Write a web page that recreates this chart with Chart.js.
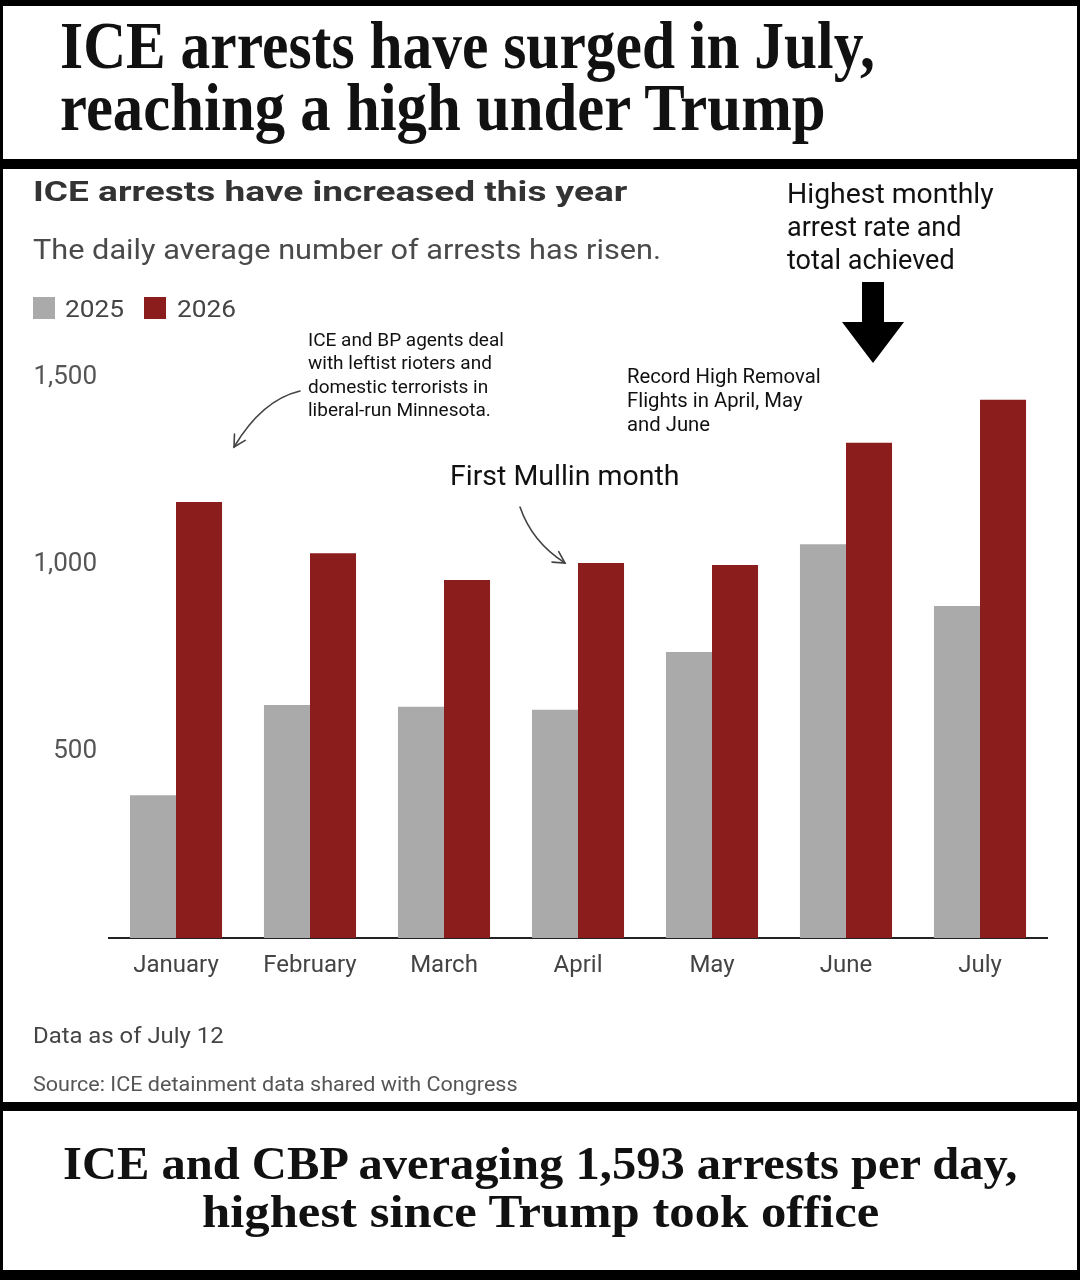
<!DOCTYPE html>
<html>
<head>
<meta charset="utf-8">
<script src="https://cdn.jsdelivr.net/npm/chart.js@4.4.1/dist/chart.umd.min.js"></script>
<style>
  html, body { margin: 0; padding: 0; }
  body { width: 1080px; height: 1280px; background: #000; position: relative; overflow: hidden; }
  .box { position: absolute; background: #fff; }
  .t { position: absolute; white-space: nowrap; line-height: 1; transform-origin: 0 0; }
  .sq { position: absolute; width: 22px; height: 22px; }
  #wrap { position: absolute; left: 0; top: 0; width: 1080px; height: 1280px; }
</style>
</head>
<body>
<div class="box" style="left:3px;top:6px;width:1074px;height:153px"></div>
<div class="box" style="left:3px;top:169px;width:1074px;height:933px"></div>
<div class="box" style="left:3px;top:1111px;width:1074px;height:159px"></div>
<div id="wrap"><canvas id="arrestsChart"></canvas></div>
<div id="texts"></div>
<script>
// data (daily average arrests)
const months = ['January', 'February', 'March', 'April', 'May', 'June', 'July'];
const seriesNames = ['2025', '2026'];
const arrests2025 = [382, 623, 618, 610, 765, 1053, 888];
const arrests2026 = [1166, 1029, 957, 1003, 997, 1324, 1439];
const yTicks = [500, 1000, 1500];

const GRAY = '#aaaaaa';
const RED = '#8c1d1d';
const SANS = 'Roboto, "Liberation Sans", sans-serif';
const SERIF = '"Liberation Serif", "DejaVu Serif", serif';

// text helper: x = left (or centre), y = baseline
const texts = document.getElementById('texts');
const fits = [];
function put(str, x, base, size, opts) {
    opts = opts || {};
    const d = document.createElement('div');
    d.className = 't';
    d.textContent = str;
    d.style.fontFamily = opts.family || SANS;
    d.style.fontSize = size + 'px';
    d.style.fontWeight = opts.weight || 400;
    d.style.color = opts.color || '#111';
    d.style.top = (base - 0.84 * size) + 'px';
    d.style.left = x + 'px';
    texts.appendChild(d);
    if (opts.width) fits.push({ d, x, w: opts.width, center: opts.center });
    return d;
}

// headline box
put('ICE arrests have surged in July,', 60, 68, 68, { family: SERIF, weight: 700, color: '#111', width: 815 });
put('reaching a high under Trump', 60, 130, 68, { family: SERIF, weight: 700, color: '#111', width: 766 });

// chart header
put('ICE arrests have increased this year', 33, 202, 28, { weight: 700, color: '#333', width: 595 });
put('The daily average number of arrests has risen.', 33, 260, 28, { color: '#4a4a4a', width: 628 });

// legend
[GRAY, RED].forEach((c, i) => {
    const s = document.createElement('div');
    s.className = 'sq';
    s.style.background = c;
    s.style.left = (33 + i * 111) + 'px';
    s.style.top = '297px';
    texts.appendChild(s);
    put(seriesNames[i], 65 + i * 112, 317, 24, { color: '#444', width: 59 });
});

// annotations
['Highest monthly', 'arrest rate and', 'total achieved'].forEach((s, i) =>
    put(s, 787, 204 + i * 33, 27, { color: '#111', width: i === 0 ? 207 : null }));
['Record High Removal', 'Flights in April, May', 'and June'].forEach((s, i) =>
    put(s, 627, 383 + i * 24, 20.3, { color: '#111' }));
['ICE and BP agents deal', 'with leftist rioters and', 'domestic terrorists in', 'liberal-run Minnesota.'].forEach((s, i) =>
    put(s, 308, 346 + i * 23.3, 19, { color: '#111' }));
put('First Mullin month', 450, 486, 27, { color: '#111', width: 230 });

// notes
put('Data as of July 12', 33, 1043, 22, { color: '#444', width: 191 });
put('Source: ICE detainment data shared with Congress', 33, 1091, 20, { color: '#555', width: 485 });

// bottom box
put('ICE and CBP averaging 1,593 arrests per day,', 540, 1180, 46, { family: SERIF, weight: 700, color: '#111', width: 954, center: true });
put('highest since Trump took office', 540, 1228, 46, { family: SERIF, weight: 700, color: '#111', width: 677, center: true });

function fitTexts() {
    fits.forEach(f => {
        const w = f.d.offsetWidth;
        const k = f.w / w;
        f.d.style.transform = 'scaleX(' + k + ')';
        if (f.center) f.d.style.left = (f.x - f.w / 2) + 'px';
    });
}

function arrowCurve(ctx, x0, y0, cx, cy, x1, y1) {
    ctx.beginPath();
    ctx.moveTo(x0, y0);
    ctx.quadraticCurveTo(cx, cy, x1, y1);
    ctx.stroke();
    const a = Math.atan2(y1 - cy, x1 - cx);
    const L = 13, spread = 0.5;
    ctx.beginPath();
    ctx.moveTo(x1 - L * Math.cos(a - spread), y1 - L * Math.sin(a - spread));
    ctx.lineTo(x1, y1);
    ctx.lineTo(x1 - L * Math.cos(a + spread), y1 - L * Math.sin(a + spread));
    ctx.stroke();
}

const arrowsPlugin = {
    id: 'arrows',
    afterDraw(chart) {
        const ctx = chart.ctx;
        ctx.save();
        ctx.strokeStyle = '#444';
        ctx.lineWidth = 1.6;
        ctx.lineCap = 'round';
        arrowCurve(ctx, 300, 391, 262, 400, 234, 447);
        arrowCurve(ctx, 520, 507, 532, 542, 565, 563);

        // big black arrow over the June 2026 bar
        const bx = chart.getDatasetMeta(1).data[5].x + 4;
        ctx.fillStyle = '#000';
        ctx.beginPath();
        ctx.moveTo(bx - 11, 282);
        ctx.lineTo(bx + 11, 282);
        ctx.lineTo(bx + 11, 322);
        ctx.lineTo(bx + 31, 322);
        ctx.lineTo(bx, 363);
        ctx.lineTo(bx - 31, 322);
        ctx.lineTo(bx - 11, 322);
        ctx.closePath();
        ctx.fill();
        ctx.restore();
    }
};

const arrestsChart = new Chart(document.getElementById('arrestsChart').getContext('2d'), {
    type: 'bar',
    data: {
        labels: months,
        datasets: [{
            label: seriesNames[0],
            data: arrests2025,
            backgroundColor: GRAY
        }, {
            label: seriesNames[1],
            data: arrests2026,
            backgroundColor: RED
        }]
    },
    options: {
        responsive: true,
        maintainAspectRatio: false,
        animation: false,
        layout: { padding: { top: 377, left: 0, right: 33, bottom: 292 } },
        plugins: {
            legend: { display: false },
            tooltip: { enabled: false }
        },
        datasets: {
            bar: { categoryPercentage: 0.687, barPercentage: 1.0 }
        },
        scales: {
            x: {
                grid: { display: false },
                border: { display: true, color: '#222', width: 2 },
                ticks: {
                    color: '#444',
                    font: { family: SANS, size: 24 },
                    padding: 6,
                    maxRotation: 0
                },
                afterFit: (scale) => { scale.height = 50; }
            },
            y: {
                min: 0,
                max: 1500,
                grid: { display: false },
                border: { display: false },
                afterBuildTicks: (scale) => { scale.ticks = yTicks.map(v => ({ value: v })); },
                ticks: {
                    color: '#555',
                    font: { family: SANS, size: 26 },
                    padding: 4,
                    callback: (v) => v.toLocaleString('en-US')
                },
                afterFit: (scale) => { scale.width = 109; }
            }
        }
    },
    plugins: [arrowsPlugin]
});

document.fonts.ready.then(() => { fitTexts(); arrestsChart.update(); });
fitTexts();
</script>
</body>
</html>
